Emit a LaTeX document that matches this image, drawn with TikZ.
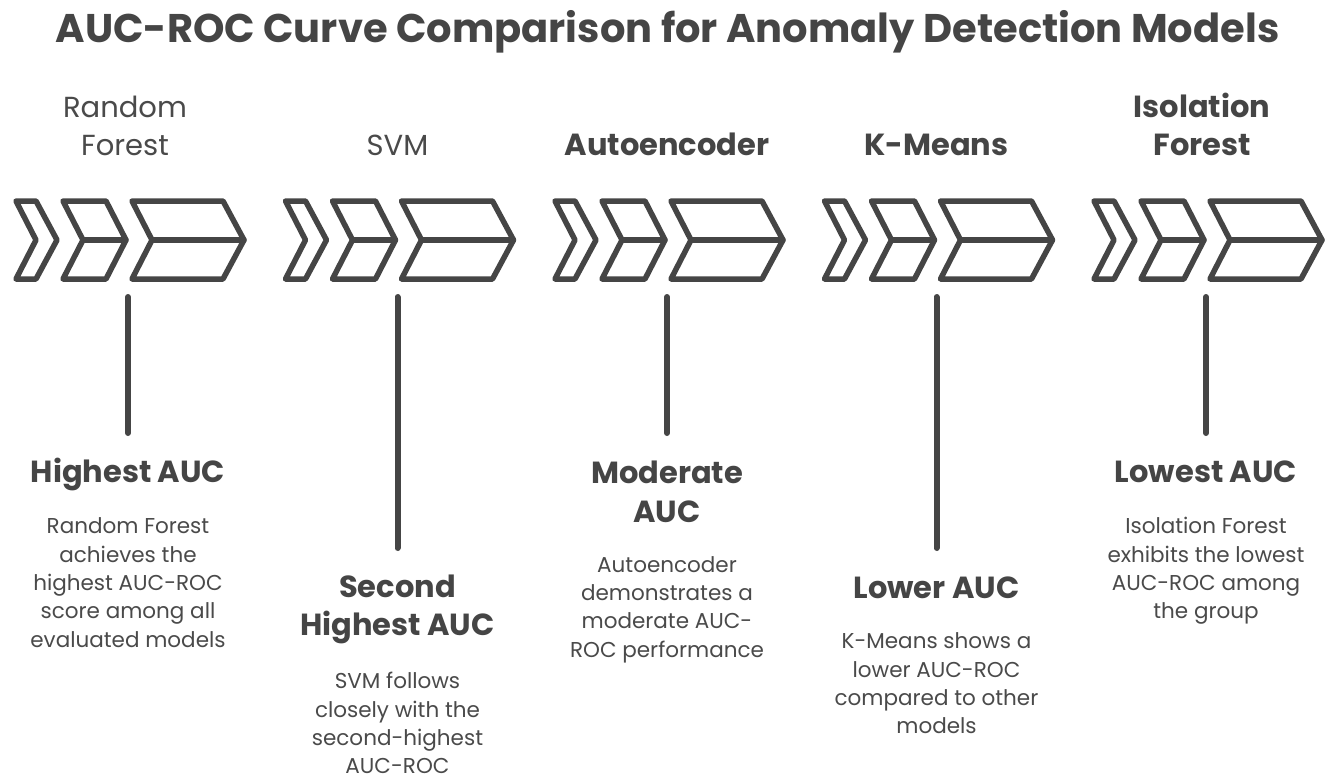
\documentclass[tikz,border=0pt]{standalone}
\usepackage{fontspec}
\setmainfont{Poppins}
\definecolor{ink}{HTML}{454545}
\definecolor{txt}{HTML}{4A4A4A}
\begin{document}
\begin{tikzpicture}[x=1pt,y=-1pt,
  chev/.style={draw=ink, line width=5.5pt, line join=round, line cap=round, fill=white},
  stem/.style={draw=ink, line width=6pt, line cap=round},
  ttl/.style={font=\fontsize{40}{44}\selectfont\bfseries, text=ink, anchor=base, inner sep=0pt},
  lab/.style={font=\fontsize{29}{32}\selectfont, text=txt, anchor=base, inner sep=0pt},
  labb/.style={font=\fontsize{30.5}{33}\selectfont\bfseries, text=ink, anchor=base, inner sep=0pt},
  head/.style={font=\fontsize{30.5}{33}\selectfont\bfseries, text=ink, anchor=base, inner sep=0pt},
  desc/.style={font=\fontsize{21.5}{24}\selectfont, text=txt, anchor=base, inner sep=0pt}]
\useasboundingbox[fill=white] (0,0) rectangle (1335,780);

% title
\node[ttl] (title) at (667.5,42) {AUC-ROC Curve Comparison for Anomaly Detection Models};

% chevron groups and stems
\foreach \i/\dx/\b in {1/0/433, 2/269.5/548, 3/539/433, 4/808.5/548, 5/1078/433}{
  \begin{scope}[shift={(\dx,0)}]
    \draw[chev] (16,201) -- (36,201) -- (57,240) -- (36,279) -- (16,279) -- (36,240) -- cycle;
    \draw[chev] (63,201) -- (106,201) -- (126,240) -- (106,279) -- (63,279) -- (83,240) -- cycle;
    \draw[chev] (132,201) -- (223,201) -- (244,240) -- (223,279) -- (132,279) -- (152,240) -- cycle;
    \coordinate (bm\i) at (83,240);
    \coordinate (bp\i) at (126,240);
    \coordinate (cm\i) at (152,240);
    \coordinate (cp\i) at (244,240);
    \draw[chev] (bm\i) -- (bp\i);
    \draw[chev] (cm\i) -- (cp\i);
    \coordinate (st\i) at (128,297);
    \coordinate (sb\i) at (128,\b);
    \draw[stem] (st\i) -- (sb\i);
  \end{scope}
}

% top labels
\node[lab] (l1a) at (125,117) {Random};
\node[lab] (l1b) at (125,155) {Forest};
\node[lab] (l2) at (397.5,155) {SVM};
\node[labb] (l3) at (667,155) {Autoencoder};
\node[labb] (l4) at (936.5,155) {K-Means};
\node[labb] (l5a) at (1202,117) {Isolation};
\node[labb] (l5b) at (1202,155) {Forest};

% group 1
\node[head] (h1) at (128,482) {Highest AUC};
\node[desc] (d1a) at (128,533) {Random Forest};
\node[desc] (d1b) at (128,562) {achieves the};
\node[desc] (d1c) at (128,590) {highest AUC-ROC};
\node[desc] (d1d) at (128,618) {score among all};
\node[desc] (d1e) at (128,647) {evaluated models};

% group 2
\node[head] (h2a) at (397.5,597) {Second};
\node[head] (h2b) at (397.5,635) {Highest AUC};
\node[desc] (d2a) at (397.5,688) {SVM follows};
\node[desc] (d2b) at (397.5,717) {closely with the};
\node[desc] (d2c) at (397.5,745) {second-highest};
\node[desc] (d2d) at (397.5,773) {AUC-ROC};

% group 3
\node[head] (h3a) at (667,483) {Moderate};
\node[head] (h3b) at (667,522) {AUC};
\node[desc] (d3a) at (667,572) {Autoencoder};
\node[desc] (d3b) at (667,600) {demonstrates a};
\node[desc] (d3c) at (667,628) {moderate AUC-};
\node[desc] (d3d) at (667,657) {ROC performance};

% group 4
\node[head] (h4) at (936.5,598) {Lower AUC};
\node[desc] (d4a) at (936.5,648) {K-Means shows a};
\node[desc] (d4b) at (936.5,677) {lower AUC-ROC};
\node[desc] (d4c) at (936.5,705) {compared to other};
\node[desc] (d4d) at (936.5,733) {models};

% group 5
\node[head] (h5) at (1206,482) {Lowest AUC};
\node[desc] (d5a) at (1206,533) {Isolation Forest};
\node[desc] (d5b) at (1206,562) {exhibits the lowest};
\node[desc] (d5c) at (1206,590) {AUC-ROC among};
\node[desc] (d5d) at (1206,618) {the group};
\end{tikzpicture}
\end{document}
